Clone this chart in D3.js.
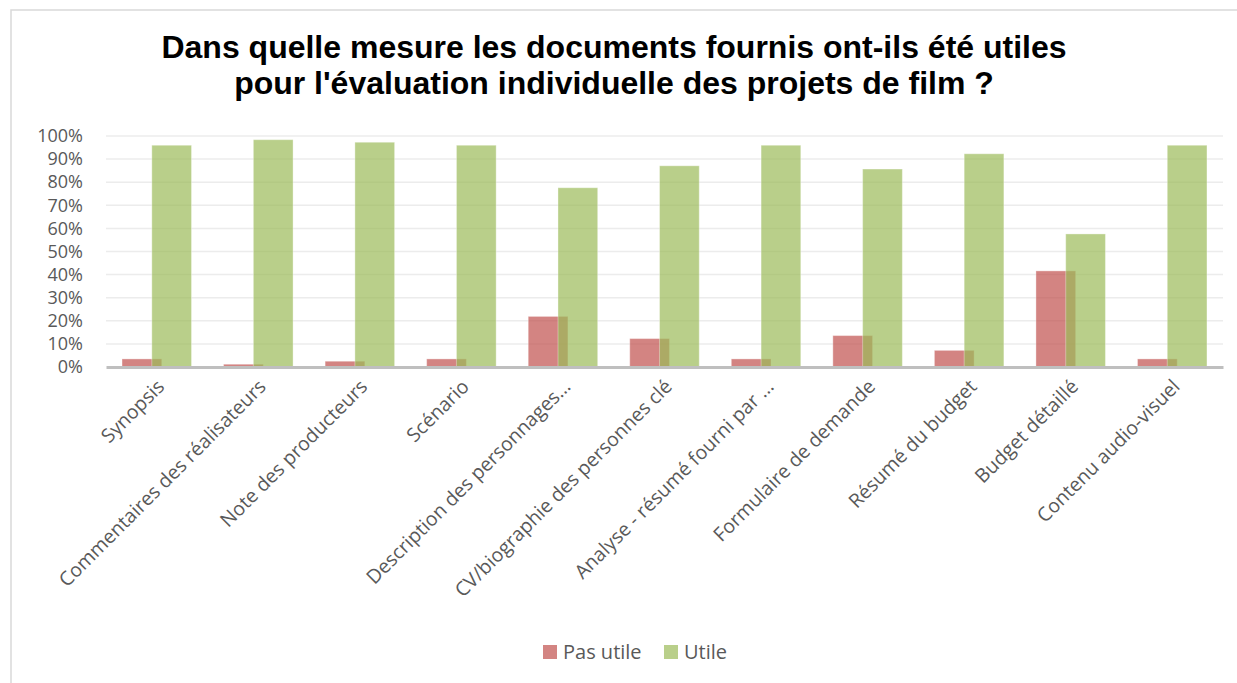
<!DOCTYPE html>
<html>
<head>
<meta charset="utf-8">
<script src="https://cdn.jsdelivr.net/npm/d3@7"></script>
<style>
  html, body { margin: 0; padding: 0; background: #fff; }
  svg { display: block; }
</style>
</head>
<body>
<svg id="chart" width="1237" height="683"></svg>
<script>
// Documents assessed
const categories = [
  "Synopsis",
  "Commentaires des réalisateurs",
  "Note des producteurs",
  "Scénario",
  "Description des personnages…",
  "CV/biographie des personnes clé",
  "Analyse - résumé fourni par …",
  "Formulaire de demande",
  "Résumé du budget",
  "Budget détaillé",
  "Contenu audio-visuel"
];
// Share of answers, in percent
const pasUtile = [3.5, 1.2, 2.5, 3.5, 21.9, 12.3, 3.5, 13.6, 7.2, 41.6, 3.5];
const utile    = [96.0, 98.4, 97.3, 96.0, 77.6, 87.1, 96.0, 85.7, 92.3, 57.6, 96.0];
const seriesNames = ["Pas utile", "Utile"];
const seriesColors = ["#C0504D", "#9BBB59"];
const yTicks = [0, 10, 20, 30, 40, 50, 60, 70, 80, 90, 100];
const titleLines = [
  "Dans quelle mesure les documents fournis ont-ils été utiles",
  "pour l'évaluation individuelle des projets de film ?"
];

const svg = d3.select("#chart");
const W = 1237, H = 683;
const plot = { left: 106, right: 1223, top: 136, bottom: 367 };

// Outer frame (top and left edges visible)
svg.append("path")
  .attr("d", `M11,${H} L11,10 L${W},10`)
  .attr("fill", "none")
  .attr("stroke", "#d9d9d9")
  .attr("stroke-width", 1.5);

// Title
const title = svg.append("text")
  .attr("text-anchor", "middle")
  .attr("font-family", "'Liberation Sans', Arial, sans-serif")
  .attr("font-weight", "bold")
  .attr("font-size", 32)
  .attr("fill", "#000");
titleLines.forEach((t, i) => {
  title.append("tspan").attr("x", 614).attr("y", 58 + i * 36).text(t);
});

const y = d3.scaleLinear().domain([0, 100]).range([plot.bottom, plot.top]);
const x = d3.scaleBand().domain(categories).range([plot.left, plot.right])
  .paddingInner(0).paddingOuter(0);

// Gridlines
svg.append("g")
  .selectAll("line")
  .data(yTicks.filter(d => d > 0))
  .join("line")
  .attr("x1", plot.left).attr("x2", plot.right)
  .attr("y1", d => y(d)).attr("y2", d => y(d))
  .attr("stroke", "#ececec")
  .attr("stroke-width", 1.5);

// Y axis labels
const yAxis = d3.axisLeft(y).tickValues(yTicks).tickFormat(d => d + "%").tickSize(0).tickPadding(0);
const gy = svg.append("g").attr("transform", `translate(83,0)`).call(yAxis);
gy.select(".domain").remove();
gy.selectAll("text")
  .attr("font-family", "'Open Sans', sans-serif")
  .attr("font-size", 18)
  .attr("fill", "#595959");

// Bars: width and overlap within each category band
const bw = x.bandwidth() * 0.391;
const groupW = bw * 1.75;
const seriesData = [pasUtile, utile];
seriesData.forEach((vals, si) => {
  svg.append("g")
    .selectAll("rect")
    .data(categories.map((c, i) => ({ c, v: vals[i] })))
    .join("rect")
    .attr("x", d => x(d.c) + x.bandwidth() / 2 - groupW / 2 + si * bw * 0.75)
    .attr("width", bw)
    .attr("y", d => y(d.v))
    .attr("height", d => y(0) - y(d.v))
    .attr("fill", seriesColors[si])
    .attr("fill-opacity", 0.7)
    .attr("stroke", "#ffffff")
    .attr("stroke-opacity", 0.35)
    .attr("stroke-width", 1);
});

// Category axis
const xAxis = d3.axisBottom(x).tickSize(0).tickPadding(0);
const gx = svg.append("g").attr("transform", `translate(0,${plot.bottom})`).call(xAxis);
gx.select(".domain")
  .attr("stroke", "#bfbfbf")
  .attr("stroke-width", 3);
gx.selectAll(".tick text")
  .attr("font-family", "'Open Sans', sans-serif")
  .attr("font-size", 19.5)
  .attr("fill", "#595959")
  .attr("text-anchor", "end")
  .attr("dy", "0.35em")
  .attr("transform", "translate(4,16) rotate(-45)");

// Legend
const legend = svg.append("g");
const legendItems = [
  { name: seriesNames[0], color: seriesColors[0], x: 543 },
  { name: seriesNames[1], color: seriesColors[1], x: 664 }
];
legendItems.forEach(it => {
  legend.append("rect")
    .attr("x", it.x).attr("y", 645)
    .attr("width", 14).attr("height", 14)
    .attr("fill", it.color).attr("fill-opacity", 0.7);
  legend.append("text")
    .attr("x", it.x + 20).attr("y", 659)
    .attr("font-family", "'Open Sans', sans-serif")
    .attr("font-size", 20)
    .attr("fill", "#595959")
    .text(it.name);
});
</script>
</body>
</html>
